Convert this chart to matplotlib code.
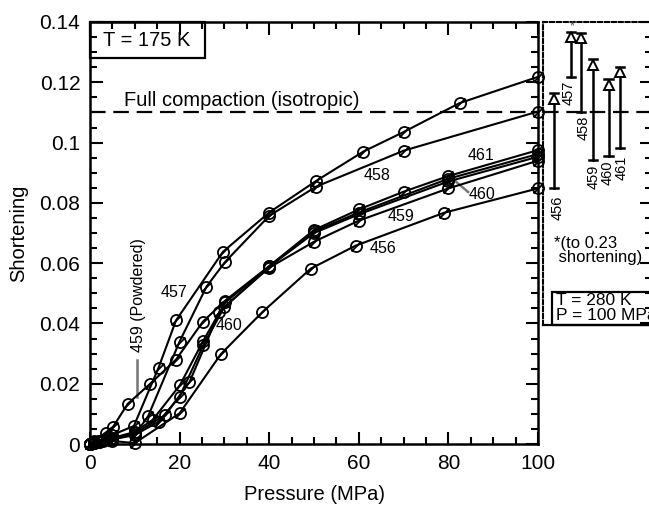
import matplotlib
matplotlib.use('Agg')
import matplotlib.pyplot as plt
from matplotlib.path import Path
from matplotlib.patches import Rectangle
from matplotlib.ticker import MultipleLocator, FuncFormatter

plt.rcParams['font.family'] = ['Liberation Sans', 'DejaVu Sans']

# ---------------- data (175 K runs) ----------------
p456 = [0, 1, 2, 5, 10, 20, 29.2, 38.5, 49.3, 59.3, 79, 100]
s456 = [0, 0.0003, 0.0006, 0.001, 0.0003, 0.0102, 0.0298, 0.0438, 0.0582, 0.0658, 0.0767, 0.0848]

p457 = [0, 1, 2, 5, 9.8, 15.3, 19.2, 29.7, 40, 50.5, 61, 70, 82.5, 100]
s457 = [0, 0.0005, 0.001, 0.003, 0.006, 0.0253, 0.041, 0.0638, 0.0768, 0.0873, 0.097, 0.1035, 0.1131, 0.1218]

p458 = [0, 1, 2, 5, 10, 13, 20, 26, 30.1, 40, 50.5, 70, 100]
s458 = [0, 0.0005, 0.001, 0.002, 0.003, 0.0093, 0.034, 0.0522, 0.0603, 0.0757, 0.0854, 0.0973, 0.1103]

p459 = [0, 1, 2, 5, 10, 15.3, 20, 25.3, 30, 40, 50, 60, 80, 100]
s459 = [0, 0.0004, 0.0008, 0.0015, 0.003, 0.0074, 0.0157, 0.0328, 0.0455, 0.0585, 0.0671, 0.0741, 0.0848, 0.0940]

p460 = [0, 1, 3, 5, 10, 16.8, 22.2, 28.9, 40, 50, 60, 80, 100]
s460 = [0, 0.0003, 0.001, 0.0015, 0.0035, 0.0096, 0.0205, 0.0439, 0.0588, 0.0700, 0.0762, 0.0871, 0.0953]

p461 = [0, 1, 3, 5, 10, 14, 20.1, 25.3, 30.2, 40, 50, 60, 70, 80, 100]
s461 = [0, 0.0005, 0.0012, 0.002, 0.004, 0.008, 0.0196, 0.0343, 0.047, 0.059, 0.071, 0.0778, 0.0837, 0.0889, 0.0975]

p459p = [0, 1, 3.5, 5.2, 8.4, 13.3, 19.2, 25.2, 30.2, 40, 50, 60, 80, 100]
s459p = [0, 0.001, 0.0038, 0.0058, 0.0133, 0.0198, 0.028, 0.0406, 0.0476, 0.059, 0.0705, 0.0768, 0.0880, 0.0962]

full_compaction = 0.11

# ---------------- data (280 K, 100 MPa) ----------------
bar_ids = ['456', '457', '458', '459', '460', '461']
bar_start = [0.0849, 0.1219, 0.1103, 0.0942, 0.0955, 0.0981]
bar_end = [0.1165, 0.1368, 0.1365, 0.1276, 0.1210, 0.1252]

# ---------------- layout ----------------
W, H = 649, 505
fig = plt.figure(figsize=(W / 100, H / 100), dpi=100)
ax_l, ax_r, ax_t, ax_b = 90, 538, 22, 444
ax = fig.add_axes([ax_l / W, 1 - ax_b / H, (ax_r - ax_l) / W, (ax_b - ax_t) / H])

ymax = 0.14
pan_l, pan_r, pan_b = 543, 652, 325
ax2 = fig.add_axes([pan_l / W, 1 - pan_b / H, (pan_r - pan_l) / W, (pan_b - ax_t) / H])

# slashed-circle marker
circ = Path.unit_circle()
slash = Path([(-0.9, -0.9), (0.9, 0.9)], [Path.MOVETO, Path.LINETO])
mk = Path.make_compound_path(circ, slash)

series = [(p456, s456), (p457, s457), (p458, s458), (p459, s459),
          (p460, s460), (p461, s461), (p459p, s459p)]
for p, s in series:
    ax.plot(p, s, color='black', lw=1.5, marker=mk, ms=8, mfc='none',
            mec='black', mew=1.3, clip_on=False, zorder=3)

ax.axhline(full_compaction, color='black', lw=1.6, dashes=(7, 3.5), zorder=2)
ax.text(7.6, 0.1141, 'Full compaction (isotropic)', fontsize=14.5, va='center', ha='left')

ax.set_xlim(0, 100)
ax.set_ylim(0, ymax)
ax.xaxis.set_major_locator(MultipleLocator(20))
ax.xaxis.set_minor_locator(MultipleLocator(5))
ax.yaxis.set_major_locator(MultipleLocator(0.02))
ax.yaxis.set_minor_locator(MultipleLocator(0.005))
ax.yaxis.set_major_formatter(FuncFormatter(lambda v, _: '0' if abs(v) < 1e-9 else ('%g' % round(v, 3))))
ax.tick_params(which='both', direction='in', top=True, right=True, width=1.5, labelsize=15)
ax.tick_params(which='major', length=9, pad=7)
ax.tick_params(which='minor', length=5)
for sp in ax.spines.values():
    sp.set_linewidth(1.8)
ax.set_xlabel('Pressure (MPa)', fontsize=14.5, labelpad=9)
ax.set_ylabel('Shortening', fontsize=14.5, labelpad=8)

# T = 175 K box
ax.add_patch(Rectangle((0, (ax_b - 58) / (ax_b - ax_t)), (205 - ax_l) / (ax_r - ax_l),
                       1 - (ax_b - 58) / (ax_b - ax_t), transform=ax.transAxes,
                       fill=False, lw=1.6, zorder=4, clip_on=False))
ax.text((147 - ax_l) / (ax_r - ax_l), 1 - (40 - ax_t) / (ax_b - ax_t), 'T = 175 K',
        transform=ax.transAxes, fontsize=14.5, ha='center', va='center')

# curve labels
lab_fs = 11.5
ax.text(18.8, 0.0503, '457', fontsize=lab_fs, ha='center', va='center')
ax.text(31.0, 0.0392, '460', fontsize=lab_fs, ha='center', va='center')
ax.text(10.9, 0.0494, '459 (Powdered)', fontsize=lab_fs, ha='center', va='center', rotation=90)
ax.plot([10.6, 10.6], [0.0279, 0.0156], color='#777777', lw=1.8)
ax.text(64.1, 0.0892, '458', fontsize=lab_fs, ha='center', va='center')
ax.text(87.3, 0.0956, '461', fontsize=lab_fs, ha='center', va='center')
ax.text(87.6, 0.0829, '460', fontsize=lab_fs, ha='center', va='center')
ax.plot([81.0, 84.4], [0.0879, 0.0836], color='#777777', lw=1.8)
ax.text(69.4, 0.0756, '459', fontsize=lab_fs, ha='center', va='center')
ax.text(65.4, 0.0647, '456', fontsize=lab_fs, ha='center', va='center')

# ---------------- right panel ----------------
ax2.set_xlim(0, 1)
ax2.set_ylim(ymax * (ax_b - pan_b) / (ax_b - ax_t), ymax)
ax2.set_xticks([])
ax2.yaxis.tick_right()
ax2.yaxis.set_major_locator(MultipleLocator(0.02))
ax2.yaxis.set_minor_locator(MultipleLocator(0.005))
ax2.tick_params(which='both', direction='in', width=1.5, labelright=False, left=False)
ax2.tick_params(which='major', length=9)
ax2.tick_params(which='minor', length=5)
ax2.patch.set_alpha(0)
for k in ('left', 'top'):
    ax2.spines[k].set_linestyle((0, (2, 1.3)))
    ax2.spines[k].set_linewidth(1.5)
ax2.spines['bottom'].set_linewidth(1.6)
ax2.spines['right'].set_linewidth(1.6)

ax2.axhline(full_compaction, color='black', lw=1.6, dashes=(7, 3.5), zorder=2)

bar_pos = [0.103, 0.259, 0.352, 0.461, 0.601, 0.704]
cap = 0.037
for xb, s0, s1 in zip(bar_pos, bar_start, bar_end):
    ax2.plot([xb, xb], [s0, s1 - 0.003], color='black', lw=1.8, zorder=3)
    ax2.plot([xb - cap, xb + cap], [s0, s0], color='black', lw=1.8, zorder=3)
    ax2.plot([xb - cap, xb + cap], [s1, s1], color='black', lw=1.8, zorder=3)
    ax2.plot([xb], [s1 - 0.0019], marker='^', ms=7, mfc='white', mec='black',
             mew=1.4, zorder=4)

bar_lab = [(0.136, 0.0783), (0.234, 0.1164), (0.369, 0.1048),
           (0.463, 0.0887), (0.594, 0.0901), (0.718, 0.0916)]
for name, (xl, yl) in zip(bar_ids, bar_lab):
    ax2.text(xl, yl, name, fontsize=10.5, rotation=90, ha='center', va='center')

ax2.text(0.268, 0.1385, '*', fontsize=9, color='#555555', ha='center', va='center')
ax2.text(0.105, 0.0690, '*(to 0.23\n shortening)', fontsize=12, ha='left', va='top',
         linespacing=0.95)

ybot = ymax * (ax_b - pan_b) / (ax_b - ax_t)
ax2.add_patch(Rectangle((0.084, ybot), 1.0, 0.0503 - ybot, fill=False, lw=1.6,
                        zorder=4, clip_on=False))
ax2.text(0.12, 0.0476, 'T = 280 K', fontsize=12.5, ha='left', va='center')
ax2.text(0.12, 0.0425, 'P = 100 MPa', fontsize=12.5, ha='left', va='center')

fig.savefig('out.png', dpi=100)
